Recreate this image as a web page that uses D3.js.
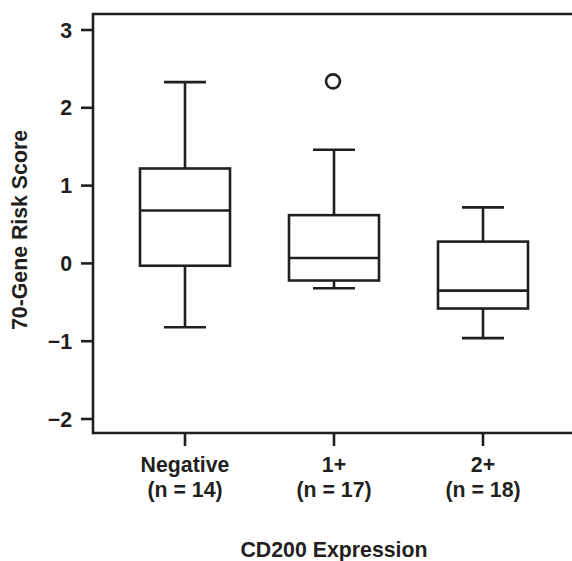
<!DOCTYPE html>
<html>
<head>
<meta charset="utf-8">
<script src="https://cdn.jsdelivr.net/npm/d3@7"></script>
<style>
  body { margin: 0; background: #fff; }
  text { font-family: "Liberation Sans", Arial, sans-serif; font-weight: bold; fill: #231f20; }
</style>
</head>
<body>
<svg id="chart" width="572" height="561"></svg>
<script>
const categories = ["Negative", "1+", "2+"]
const counts = [14, 17, 18]
// box stats
const whiskerLow = [-0.82, -0.32, -0.96]
const q1 = [-0.03, -0.22, -0.58]
const median = [0.68, 0.07, -0.35]
const q3 = [1.22, 0.62, 0.28]
const whiskerHigh = [2.33, 1.46, 0.72]
const outliers = [{ cat: "1+", value: 2.34 }]
const yTicks = [-2, -1, 0, 1, 2, 3]

const ink = "#231f20"
const fontSize = 21.3
const svg = d3.select("#chart")

const y = d3.scaleLinear().domain([-2, 3]).range([419, 30])
const x = d3.scalePoint().domain(categories).range([185, 483])

const frameLeft = 93, frameTop = 14, frameBottom = 433, frameRight = 580
const boxW = 90, capW = 42

// frame: top, left, bottom
svg.append("path")
  .attr("d", `M${frameRight},${frameTop}H${frameLeft}V${frameBottom}H${frameRight}`)
  .attr("fill", "none").attr("stroke", ink).attr("stroke-width", 2.6)

// y axis
const yAxis = svg.append("g")
yAxis.selectAll("line").data(yTicks).join("line")
  .attr("x1", frameLeft - 12).attr("x2", frameLeft)
  .attr("y1", d => y(d)).attr("y2", d => y(d))
  .attr("stroke", ink).attr("stroke-width", 2.6)
yAxis.selectAll("text").data(yTicks).join("text")
  .attr("x", 72).attr("y", d => y(d))
  .attr("dy", "0.36em")
  .attr("text-anchor", "end")
  .attr("font-size", fontSize)
  .text(d => d < 0 ? "\u2212" + Math.abs(d) : d)

svg.append("text")
  .attr("transform", `translate(27,230) rotate(-90)`)
  .attr("text-anchor", "middle")
  .attr("font-size", fontSize)
  .text("70-Gene Risk Score")

// x axis
const xAxis = svg.append("g")
xAxis.selectAll("line").data(categories).join("line")
  .attr("x1", d => x(d)).attr("x2", d => x(d))
  .attr("y1", frameBottom).attr("y2", frameBottom + 13)
  .attr("stroke", ink).attr("stroke-width", 2.6)
const xl = xAxis.selectAll("text").data(categories).join("text")
  .attr("text-anchor", "middle")
  .attr("font-size", fontSize)
xl.append("tspan").attr("x", d => x(d)).attr("y", 472).text(d => d)
xl.append("tspan").attr("x", d => x(d)).attr("y", 497).text((d, i) => `(n = ${counts[i]})`)

svg.append("text")
  .attr("x", 334).attr("y", 557)
  .attr("text-anchor", "middle")
  .attr("font-size", fontSize)
  .text("CD200 Expression")

// boxes
const boxes = svg.append("g")
  .attr("fill", "none").attr("stroke", ink).attr("stroke-width", 2.6)
categories.forEach((c, i) => {
  const cx = x(c)
  const g = boxes.append("g")
  g.append("line").attr("x1", cx).attr("x2", cx).attr("y1", y(whiskerHigh[i])).attr("y2", y(q3[i]))
  g.append("line").attr("x1", cx).attr("x2", cx).attr("y1", y(q1[i])).attr("y2", y(whiskerLow[i]))
  g.append("line").attr("x1", cx - capW / 2).attr("x2", cx + capW / 2).attr("y1", y(whiskerHigh[i])).attr("y2", y(whiskerHigh[i]))
  g.append("line").attr("x1", cx - capW / 2).attr("x2", cx + capW / 2).attr("y1", y(whiskerLow[i])).attr("y2", y(whiskerLow[i]))
  g.append("rect")
    .attr("x", cx - boxW / 2).attr("width", boxW)
    .attr("y", y(q3[i])).attr("height", y(q1[i]) - y(q3[i]))
    .attr("fill", "#fff")
  g.append("line").attr("x1", cx - boxW / 2).attr("x2", cx + boxW / 2).attr("y1", y(median[i])).attr("y2", y(median[i]))
})

boxes.selectAll("circle").data(outliers).join("circle")
  .attr("cx", d => x(d.cat) - 1).attr("cy", d => y(d.value))
  .attr("r", 7)
</script>
</body>
</html>
